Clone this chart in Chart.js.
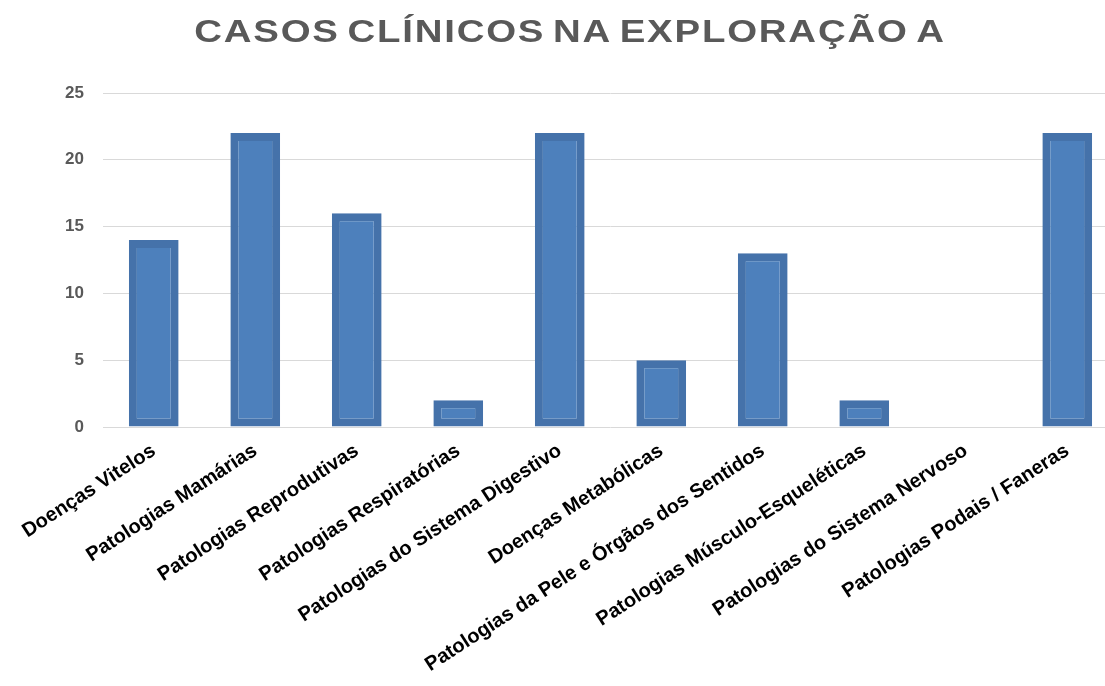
<!DOCTYPE html>
<html>
<head>
<meta charset="utf-8">
<script src="https://cdn.jsdelivr.net/npm/chart.js@4"></script>
<style>
  html, body { margin: 0; padding: 0; background: #fff; overflow: hidden; }
  #wrap { width: 1120px; height: 686px; }
</style>
</head>
<body>
<div id="wrap"><canvas id="casosChart"></canvas></div>
<script>
const chart_title = 'CASOS CLÍNICOS NA EXPLORAÇÃO A';
const categorias = [
  'Doenças Vitelos',
  'Patologias Mamárias',
  'Patologias Reprodutivas',
  'Patologias Respiratórias',
  'Patologias do Sistema Digestivo',
  'Doenças Metabólicas',
  'Patologias da Pele e Órgãos dos Sentidos',
  'Patologias Músculo-Esqueléticas',
  'Patologias do Sistema Nervoso',
  'Patologias Podais / Faneras'
];
const casos = [14, 22, 16, 2, 22, 5, 13, 2, 0, 22];
const y_ticks = [0, 5, 10, 15, 20, 25];

// title drawn by hand: wide letters, a little spacing
const titlePlugin = {
  id: 'spacedTitle',
  afterDraw(chart) {
    const ctx = chart.ctx;
    ctx.save();
    ctx.translate(570, 33);
    ctx.scale(1.2, 1);
    ctx.font = 'bold 32px "Liberation Sans", Arial, sans-serif';
    ctx.fillStyle = '#595959';
    ctx.textAlign = 'center';
    ctx.textBaseline = 'middle';
    ctx.letterSpacing = '1.5px';
    ctx.wordSpacing = '-4px';
    ctx.fillText(chart_title, 0, 0);
    ctx.restore();
  }
};

const ctx = document.getElementById('casosChart').getContext('2d');
const myChart = new Chart(ctx, {
  type: 'bar',
  data: {
    labels: categorias,
    datasets: [{
      data: casos,
      backgroundColor: '#4d80bc',
      borderColor: '#4572aa',
      borderWidth: 8,
      borderSkipped: false,
      barPercentage: 0.49,
      categoryPercentage: 1
    }]
  },
  options: {
    responsive: true,
    maintainAspectRatio: false,
    animation: false,
    layout: { padding: { top: 93, right: 2, left: 0, bottom: 0 } },
    plugins: {
      legend: { display: false },
      title: { display: false },
      tooltip: { enabled: false }
    },
    scales: {
      x: {
        grid: { display: false },
        border: { display: false },
        ticks: {
          color: '#000',
          font: { family: '"Liberation Sans", Arial, sans-serif', size: 20, weight: 'bold' },
          minRotation: 33,
          maxRotation: 33,
          autoSkip: false,
          padding: 4
        },
        afterFit: (axis) => { axis.height = 259; }
      },
      y: {
        min: 0,
        max: 25,
        afterBuildTicks: (axis) => { axis.ticks = y_ticks.map(v => ({ value: v })); },
        grid: { color: '#d9d9d9', lineWidth: 1, drawTicks: false },
        border: { display: false },
        ticks: {
          color: '#595959',
          font: { family: '"Liberation Sans", Arial, sans-serif', size: 17, weight: 'bold' },
          padding: 19
        },
        afterFit: (axis) => { axis.width = 103; }
      }
    }
  },
  plugins: [titlePlugin]
});
</script>
</body>
</html>
